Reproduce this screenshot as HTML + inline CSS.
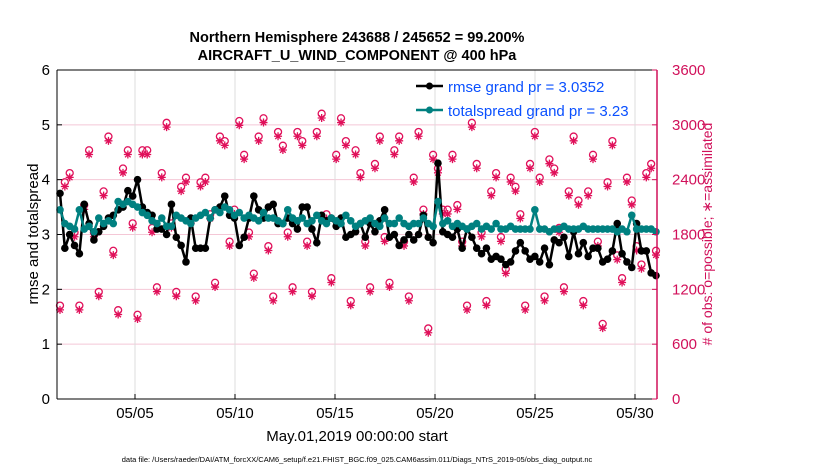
<!DOCTYPE html>
<html><head><meta charset="utf-8"><style>
body{margin:0;background:#fff;}
svg{display:block;font-family:"Liberation Sans",sans-serif;}
</style></head><body>
<svg id="chart" width="830" height="470">
<text x="357" y="42" text-anchor="middle" font-size="14.5" font-weight="bold">Northern Hemisphere 243688 / 245652 = 99.200%</text>
<text x="357" y="60" text-anchor="middle" font-size="14.5" font-weight="bold">AIRCRAFT_U_WIND_COMPONENT @ 400 hPa</text>
<g id="grid"></g><g id="obs"></g><g id="lines"></g><g id="axes"></g>
<text x="0" y="0" transform="translate(38,234) rotate(-90)" text-anchor="middle" font-size="15">rmse and totalspread</text>
<text x="0" y="0" transform="translate(712,234) rotate(-90)" text-anchor="middle" font-size="14" fill="#d1105a"># of obs: o=possible; ∗=assimilated</text>
<text x="357" y="441" text-anchor="middle" font-size="15">May.01,2019 00:00:00 start</text>
<text x="357" y="462" text-anchor="middle" font-size="7.5">data file: /Users/raeder/DAI/ATM_forcXX/CAM6_setup/f.e21.FHIST_BGC.f09_025.CAM6assim.011/Diags_NTrS_2019-05/obs_diag_output.nc</text>
<g>
<line x1="416" y1="86" x2="443" y2="86" stroke="#000" stroke-width="2.5"/><circle cx="429.5" cy="86" r="3.5" fill="#000"/>
<text x="448" y="92" font-size="15" fill="#0a50ff">rmse grand pr = 3.0352</text>
<line x1="416" y1="110" x2="443" y2="110" stroke="#008080" stroke-width="2.5"/><circle cx="429.5" cy="110" r="3.5" fill="#008080"/>
<text x="448" y="116" font-size="15" fill="#0a50ff">totalspread grand pr = 3.23</text>
</g>
</svg>
<script>
const rmse=[3.75,2.75,3.0,2.8, 2.65,3.55,3.2,2.9, 3.05,3.15,3.3,3.35, 3.45,3.5,3.8,3.7, 4.0,3.5,3.4,3.35,
3.1,3.1,3.0,3.55, 2.95,2.8,2.5,3.3, 2.75,2.75,2.75,3.3, 3.45,3.5,3.7,3.35, 3.3,2.8,2.95,3.3,
3.7,3.45,3.3,3.5, 3.55,3.2,3.2,3.3, 3.2,3.1,3.5,3.5, 3.1,2.85,3.35,3.25, 3.3,3.15,3.3,2.95,
3.0,3.05,3.2,2.95, 3.2,3.05,3.25,3.45, 2.95,3.0,2.8,2.9, 3.0,2.9,3.0,3.35, 2.95,2.85,4.3,3.05,
3.0,2.95,3.1,2.75, 3.1,2.95,2.75,2.65, 2.75,2.55,2.6,2.55, 2.45,2.5,2.7,2.85, 2.7,2.55,2.6,2.5,
2.75,2.45,2.9,2.85, 2.95,2.6,3.05,2.65, 2.85,2.6,2.75,2.75, 2.5,2.55,2.7,3.2, 2.65,2.5,2.4,3.2,
2.7,2.7,2.3,2.25];
const spread=[3.45,3.2,3.15,3.1, 3.45,3.1,3.15,3.05, 3.3,3.2,3.25,3.2, 3.6,3.55,3.6,3.55, 3.5,3.4,3.35,3.25,
3.2,3.3,3.15,3.15, 3.35,3.3,3.25,3.2, 3.3,3.35,3.4,3.3, 3.45,3.4,3.5,3.45, 3.35,3.4,3.3,3.35,
3.3,3.25,3.4,3.3, 3.3,3.25,3.2,3.45, 3.3,3.25,3.3,3.2, 3.25,3.35,3.25,3.2, 3.3,3.25,3.2,3.35,
3.25,3.15,3.2,3.25, 3.3,3.2,3.15,3.3, 3.2,3.2,3.3,3.2, 3.15,3.2,3.2,3.3, 3.2,3.15,3.6,3.2,
3.25,3.15,3.2,3.15, 3.1,3.15,3.2,3.1, 3.15,3.1,3.2,3.1, 3.1,3.15,3.1,3.1, 3.1,3.1,3.45,3.1,
3.1,3.05,3.1,3.1, 3.15,3.1,3.1,3.1, 3.15,3.1,3.1,3.1, 3.1,3.1,3.1,3.05, 3.1,3.05,3.35,3.1,
3.1,3.1,3.1,3.05];
const possible=[1000,2350,2450,1800, 1000,2100,2700,1800, 1150,2250,2850,1600, 950,2500,2700,1900, 900,2700,2700,1850,
1200,2450,3000,1900, 1150,2300,2400,1950, 1100,2350,2400,2000, 1250,2850,2800,1700, 2050,3020,2650,1800,
1350,2850,3050,1650, 1100,2900,2750,1800, 1200,2900,2800,1700, 1150,2900,3100,2000, 1300,2650,3050,2800,
1050,2700,2450,1700, 1200,2550,2850,1750, 1250,2700,2850,1700, 1100,2400,2900,2050, 750,2650,2500,2050,
2050,2650,2100,1700, 1000,3000,2550,1800, 1050,2250,2450,1750, 1400,2400,2300,2000, 1000,2550,2900,2400,
1100,2600,2500,1850, 1200,2250,2850,2150, 1050,2250,2650,1700, 800,2350,2800,1550, 1300,2400,2150,1650,
1450,2450,2550,1600];
const assimilated=possible.map(v=>v-25);
const NS="http://www.w3.org/2000/svg";
const X0=57,X1=657,Y0=399,Y1=70;
const xs=i=>X0+3+(i/(rmse.length-1))*(X1-X0-4);
const yL=v=>Y0-(v/6)*(Y0-Y1);
const yR=v=>Y0-(v/3600)*(Y0-Y1);
function mk(t,a,p){const e=document.createElementNS(NS,t);for(const k in a)e.setAttribute(k,a[k]);(p||document.getElementById('chart')).appendChild(e);return e;}
const grid=document.getElementById('grid'),axes=document.getElementById('axes'),obs=document.getElementById('obs'),lines=document.getElementById('lines');
const rTicks=[0,600,1200,1800,2400,3000,3600];
const lTicks=[0,1,2,3,4,5,6];
const xDays=[5,10,15,20,25,30];
const xLabels=["05/05","05/10","05/15","05/20","05/25","05/30"];
const xDay=d=>55+(d-1)*20;
rTicks.forEach(v=>{if(v>0&&v<3600){const l=mk('line',{x1:X0,x2:X1,y1:yR(v),y2:yR(v),stroke:'#f4c7d6','stroke-width':1},grid);

}});
xDays.forEach((d,i)=>{const l=mk('line',{x1:xDay(d),x2:xDay(d),y1:Y1,y2:Y0,stroke:'#dcdcdc','stroke-width':1},grid);


mk('line',{x1:xDay(d),x2:xDay(d),y1:Y0,y2:Y0-5,stroke:'#000'},axes);
const t=mk('text',{x:xDay(d),y:418,'text-anchor':'middle','font-size':15},axes);t.textContent=xLabels[i];

});
mk('line',{x1:X0,x2:X1,y1:Y0,y2:Y0,stroke:'#000'},axes);
mk('line',{x1:X0,x2:X1,y1:Y1,y2:Y1,stroke:'#000'},axes);
mk('line',{x1:X0,x2:X0,y1:Y1,y2:Y0,stroke:'#000'},axes);
mk('line',{x1:X1,x2:X1,y1:Y1,y2:Y0,stroke:'#d1105a','stroke-width':1.5},axes);
lTicks.forEach(v=>{mk('line',{x1:X0,x2:X0+5,y1:yL(v),y2:yL(v),stroke:'#000'},axes);
const t=mk('text',{x:X0-7,y:yL(v)+5,'text-anchor':'end','font-size':15},axes);t.textContent=v;

});
rTicks.forEach(v=>{mk('line',{x1:X1,x2:X1-5,y1:yR(v),y2:yR(v),stroke:'#d1105a'},axes);
const t=mk('text',{x:X1+15,y:yR(v)+5,'font-size':15,fill:'#d1105a'},axes);t.textContent=v;

});
possible.forEach((v,i)=>{const c=mk('circle',{cx:xs(i),cy:yR(v)-2,r:3.5,fill:'none',stroke:'#e0105a','stroke-width':1.3},obs);

});
assimilated.forEach((v,i)=>{const x=xs(i),y=yR(v),r=4;
const g=mk('path',{d:`M${x-r} ${y}H${x+r}M${x} ${y-r}V${y+r}M${x-r*0.7} ${y-r*0.7}L${x+r*0.7} ${y+r*0.7}M${x-r*0.7} ${y+r*0.7}L${x+r*0.7} ${y-r*0.7}`,stroke:'#e0105a','stroke-width':1.3,fill:'none'},obs);

});
function series(arr,col,name){const p=mk('polyline',{points:arr.map((v,i)=>xs(i)+','+yL(v)).join(' '),fill:'none',stroke:col,'stroke-width':2.5},lines);


arr.forEach((v,i)=>{const c=mk('circle',{cx:xs(i),cy:yL(v),r:3.8,fill:col},lines);

});}
series(rmse,'#000','rmse');
series(spread,'#008080','totalspread');
</script>
</body></html>
